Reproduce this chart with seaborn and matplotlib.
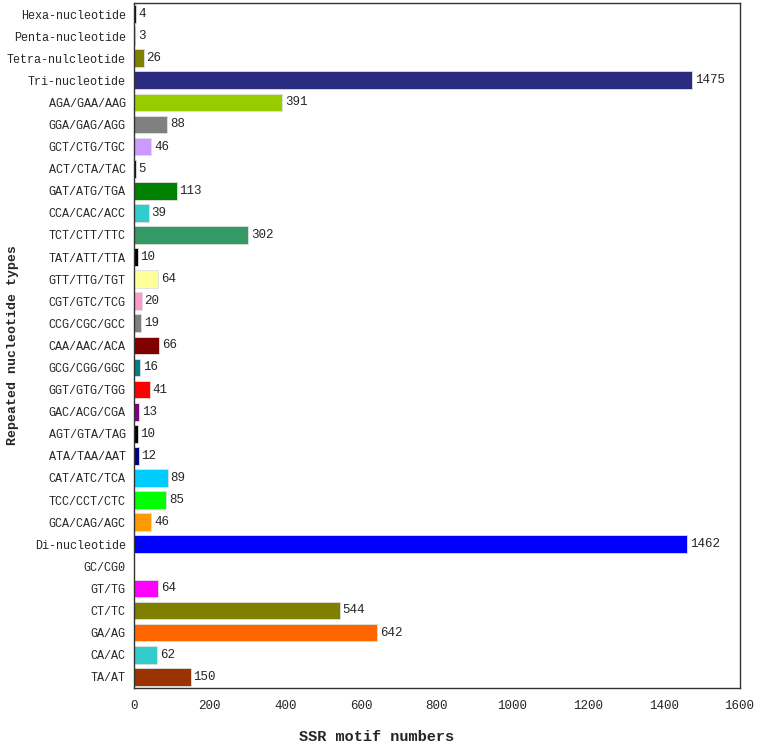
import matplotlib
matplotlib.use("Agg")
import matplotlib.pyplot as plt
import seaborn as sns
import pandas as pd

# SSR motif counts, listed top to bottom as in the chart
motifs = ['Hexa-nucleotide', 'Penta-nucleotide', 'Tetra-nulcleotide', 'Tri-nucleotide',
          'AGA/GAA/AAG', 'GGA/GAG/AGG', 'GCT/CTG/TGC', 'ACT/CTA/TAC', 'GAT/ATG/TGA',
          'CCA/CAC/ACC', 'TCT/CTT/TTC', 'TAT/ATT/TTA', 'GTT/TTG/TGT', 'CGT/GTC/TCG',
          'CCG/CGC/GCC', 'CAA/AAC/ACA', 'GCG/CGG/GGC', 'GGT/GTG/TGG', 'GAC/ACG/CGA',
          'AGT/GTA/TAG', 'ATA/TAA/AAT', 'CAT/ATC/TCA', 'TCC/CCT/CTC', 'GCA/CAG/AGC',
          'Di-nucleotide', 'GC/CG0', 'GT/TG', 'CT/TC', 'GA/AG', 'CA/AC', 'TA/AT']
counts = [4, 3, 26, 1475,
          391, 88, 46, 5, 113,
          39, 302, 10, 64, 20,
          19, 66, 16, 41, 13,
          10, 12, 89, 85, 46,
          1462, 0, 64, 544, 642, 62, 150]
bar_colors = ['#000080', '#000080', '#808000', '#2B2B80',
              '#99CC00', '#808080', '#CC99FF', '#000080', '#008000',
              '#33CCCC', '#339966', '#000000', '#FFFF99', '#FF99CC',
              '#808080', '#800000', '#008080', '#FF0000', '#800080',
              '#000000', '#000080', '#00CCFF', '#00FF00', '#FF9900',
              '#0000FF', '#FFFFFF', '#FF00FF', '#808000', '#FF6600', '#33CCCC', '#993300']

df = pd.DataFrame({'motif': motifs, 'count': counts})

sns.set_style("white")
plt.rcParams['font.family'] = ['Liberation Mono', 'DejaVu Sans Mono']

fig = plt.figure(figsize=(7.57, 7.46), dpi=100)
ax = fig.add_axes([0.177, 0.078, 0.8, 0.918])

sns.barplot(data=df, y='motif', x='count', hue='motif', palette=bar_colors,
            saturation=1, legend=False, width=0.8, edgecolor='#e0e0e0',
            linewidth=0.6, ax=ax)

for c in ax.containers:
    vals = c.datavalues
    ax.bar_label(c, labels=[f'{int(v)}' if v > 0 else '' for v in vals],
                 padding=2, fontsize=9)

ax.set_xlim(0, 1600)
ax.set_xticks(range(0, 1601, 200))
ax.tick_params(axis='both', direction='in', length=4, width=1, color='#333333')
ax.tick_params(axis='x', pad=9, labelsize=9)
ax.tick_params(axis='y', pad=6, labelsize=8.5)
ax.set_xlabel('SSR motif numbers', fontsize=11, fontweight='bold')
ax.set_ylabel('Repeated nucleotide types', fontsize=9.5, fontweight='bold')
ax.xaxis.set_label_coords(0.40, -0.062)
ax.yaxis.set_label_coords(-0.19, 0.5)
for s in ax.spines.values():
    s.set_color('#333333')
    s.set_linewidth(1)

fig.savefig('out.png', dpi=100)
